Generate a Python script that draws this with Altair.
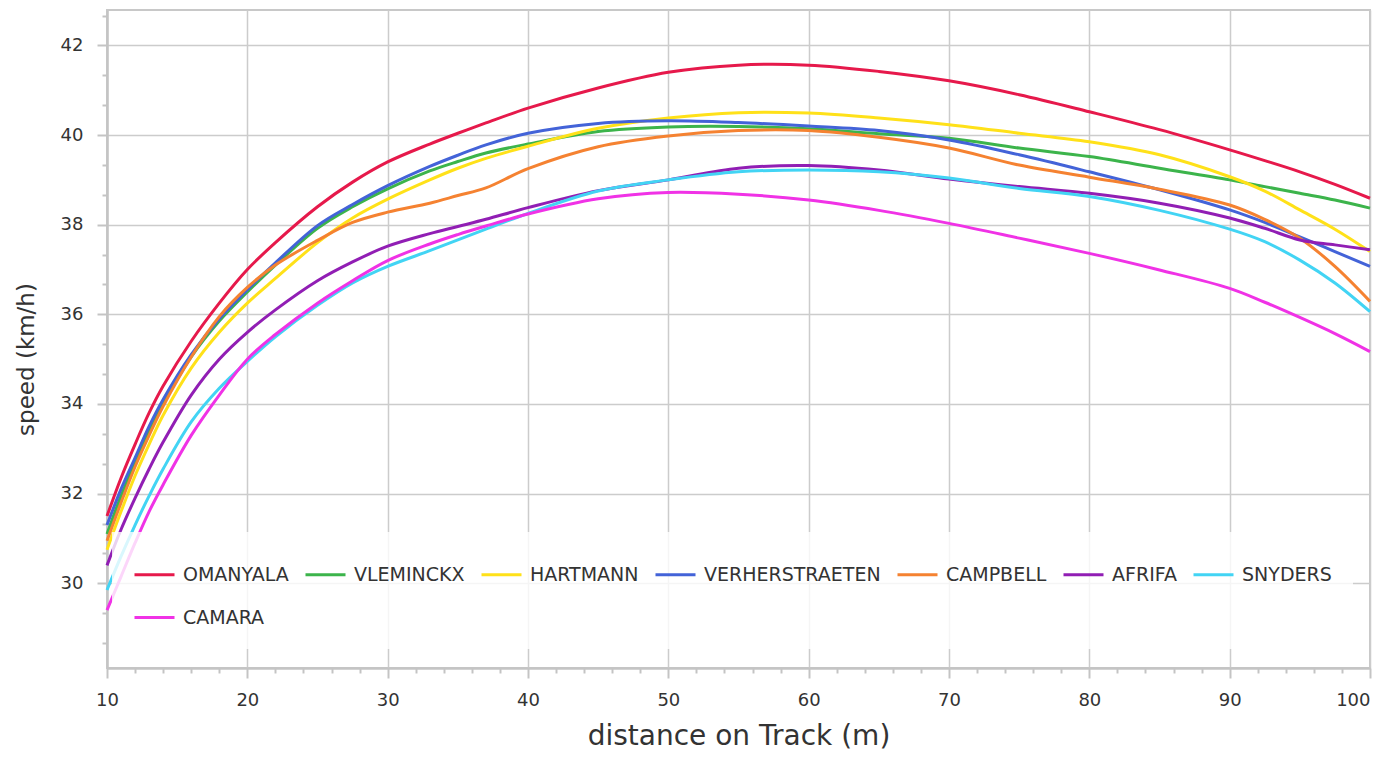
import altair as alt
import pandas as pd

# distance on track (m)
DIST = [10, 11, 12, 13, 14, 16, 18, 20, 22, 25, 27.5, 30, 33, 35, 37, 40, 45, 50,
        55, 60, 65, 70, 75, 80, 85, 90, 92.5, 95, 97.5, 100]

OMANYALA = [31.5, 32.35, 33.1, 33.8, 34.4, 35.4, 36.25, 37.0, 37.6, 38.4, 38.95, 39.4,
            39.8, 40.04, 40.27, 40.6, 41.05, 41.4, 41.56, 41.56, 41.42, 41.21, 40.9, 40.52,
            40.12, 39.67, 39.43, 39.18, 38.9, 38.59]
VLEMINCKX = [31.1, 31.95, 32.7, 33.4, 34.0, 35.05, 35.85, 36.5, 37.1, 37.92, 38.4, 38.8,
             39.2, 39.41, 39.6, 39.8, 40.08, 40.18, 40.19, 40.14, 40.03, 39.93, 39.71, 39.52,
             39.26, 39.0, 38.85, 38.7, 38.55, 38.37]
HARTMANN = [30.75, 31.6, 32.4, 33.1, 33.75, 34.8, 35.6, 36.25, 36.8, 37.6, 38.15, 38.57,
            39.0, 39.26, 39.48, 39.75, 40.15, 40.38, 40.5, 40.49, 40.38, 40.23, 40.04, 39.85,
            39.56, 39.07, 38.75, 38.33, 37.9, 37.4]
VERHERSTRAETEN = [31.3, 32.1, 32.8, 33.5, 34.1, 35.1, 35.9, 36.55, 37.15, 37.98, 38.45, 38.87,
                  39.3, 39.55, 39.78, 40.04, 40.26, 40.32, 40.28, 40.2, 40.1, 39.89, 39.56,
                  39.18, 38.78, 38.33, 38.05, 37.73, 37.4, 37.07]
CAMPBELL = [30.95, 31.8, 32.6, 33.3, 33.95, 35.05, 35.95, 36.6, 37.1, 37.65, 38.05, 38.28,
            38.48, 38.65, 38.82, 39.25, 39.74, 39.98, 40.1, 40.1, 39.95, 39.71, 39.33, 39.06,
            38.79, 38.44, 38.12, 37.7, 37.07, 36.29]
AFRIFA = [30.4, 31.2, 31.9, 32.55, 33.15, 34.2, 35.0, 35.6, 36.1, 36.75, 37.17, 37.52,
          37.8, 37.96, 38.12, 38.38, 38.76, 39.0, 39.26, 39.32, 39.22, 39.02, 38.85, 38.7,
          38.48, 38.15, 37.92, 37.66, 37.55, 37.44]
SNYDERS = [29.85, 30.6, 31.3, 31.95, 32.55, 33.6, 34.35, 34.95, 35.5, 36.2, 36.7, 37.07,
           37.42, 37.66, 37.9, 38.25, 38.75, 39.0, 39.18, 39.22, 39.18, 39.04, 38.81, 38.63,
           38.32, 37.9, 37.62, 37.21, 36.7, 36.06]
CAMARA = [29.4, 30.15, 30.9, 31.6, 32.2, 33.3, 34.2, 35.0, 35.55, 36.25, 36.75, 37.2,
          37.57, 37.78, 37.97, 38.24, 38.58, 38.72, 38.68, 38.55, 38.32, 38.03, 37.7, 37.36,
          36.99, 36.58, 36.27, 35.93, 35.57, 35.17]

ATHLETES = ["OMANYALA", "VLEMINCKX", "HARTMANN", "VERHERSTRAETEN", "CAMPBELL",
            "AFRIFA", "SNYDERS", "CAMARA"]
SERIES = [OMANYALA, VLEMINCKX, HARTMANN, VERHERSTRAETEN, CAMPBELL, AFRIFA, SNYDERS, CAMARA]
COLORS = ["#e6194b", "#3cb44b", "#ffe119", "#4363d8", "#f58231", "#911eb4", "#42d4f4",
          "#f032e6"]

X_MAJOR = [10, 20, 30, 40, 50, 60, 70, 80, 90, 100]
X_MINOR = [v for v in range(12, 100, 2) if v % 10 != 0]
Y_MAJOR = [30, 32, 34, 36, 38, 40, 42]
Y_MINOR = [round(b + k * 2 / 3, 4) for b in [28, 30, 32, 34, 36, 38, 40, 42] for k in (1, 2)
           if 28.1 < b + k * 2 / 3 < 42.8]

rows = []
for name, vals in zip(ATHLETES, SERIES):
    for d, v in zip(DIST, vals):
        rows.append({"athlete": name, "distance": d, "speed": v})
df = pd.DataFrame(rows)

FONT = "DejaVu Sans"
GRID = "#cccccc"
AXC = "#c4c4c4"
TXT = "#333333"

xscale = alt.Scale(domain=[10, 100], nice=False)
yscale = alt.Scale(domain=[28.11, 42.79], nice=False, zero=False)

lines = alt.Chart(df).mark_line(strokeWidth=3, interpolate="catmull-rom").encode(
    x=alt.X("distance:Q", scale=xscale,
            axis=alt.Axis(values=X_MAJOR, orient="bottom", grid=True, gridColor=GRID,
                          gridWidth=1.5, domainColor=AXC, domainWidth=2.5, tickColor=AXC,
                          tickWidth=2, tickSize=10, labelFontSize=18, labelFont=FONT,
                          labelColor=TXT, labelPadding=13, labelFlush=False,
                          labelAlign=alt.condition("datum.value == 100", alt.value("right"),
                                                   alt.value("center")),
                          title="distance on Track (m)", titleFont=FONT,
                          titleFontSize=28, titleFontWeight="normal", titleColor=TXT,
                          titleBaseline="alphabetic", titleY=76)),
    y=alt.Y("speed:Q", scale=yscale,
            axis=alt.Axis(values=Y_MAJOR, orient="left", grid=True, gridColor=GRID,
                          gridWidth=1.5, domainColor=AXC, domainWidth=2.5, tickColor=AXC,
                          tickWidth=2, tickSize=10, labelFontSize=18, labelFont=FONT,
                          labelColor=TXT, labelPadding=14,
                          title="speed (km/h)", titleFont=FONT, titleFontSize=23,
                          titleFontWeight="normal", titleColor=TXT, titleAngle=270,
                          titleAlign="center", titleBaseline="alphabetic",
                          titleX=-74, titleY=349)),
    color=alt.Color("athlete:N", sort=ATHLETES,
                    scale=alt.Scale(domain=ATHLETES, range=COLORS),
                    legend=alt.Legend(orient="none", legendX=5, legendY=522,
                                      direction="horizontal", columns=7, title=None,
                                      symbolType="stroke", symbolSize=1600,
                                      symbolStrokeWidth=3, labelFont=FONT,
                                      labelFontSize=19, labelColor=TXT, labelOffset=7,
                                      labelLimit=400, columnPadding=10, rowPadding=11,
                                      padding=21, fillColor="rgba(255,255,255,0.8)")),
    order=alt.Order("distance:Q"),
)

minor = alt.Chart(df).mark_line(opacity=0).encode(
    x=alt.X("distance:Q", scale=xscale,
            axis=alt.Axis(values=X_MINOR, orient="bottom", grid=False, domain=False,
                          labels=False, tickColor=AXC, tickWidth=2, tickSize=5, title=None)),
    y=alt.Y("speed:Q", scale=yscale,
            axis=alt.Axis(values=Y_MINOR, orient="left", grid=False, domain=False,
                          labels=False, tickColor=AXC, tickWidth=2, tickSize=5, title=None)),
    detail="athlete:N",
)

chart = alt.layer(lines, minor).resolve_axis(x="independent", y="independent").properties(
    width=1263, height=658,
    autosize=alt.AutoSizeParams(type="none"),
    padding={"left": 99, "top": 2, "right": 2, "bottom": 84},
    background="white",
).configure_view(stroke="#c8c8c8", strokeWidth=2)

chart.save("out.html", embed_options={"renderer": "svg", "actions": False})
